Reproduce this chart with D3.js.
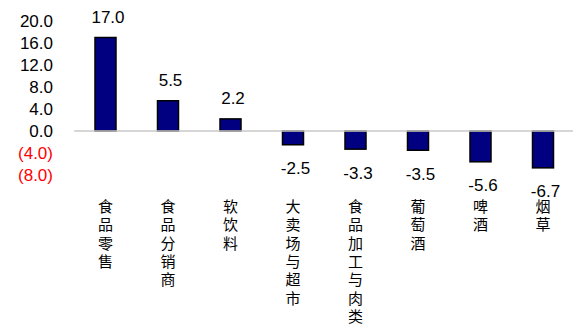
<!DOCTYPE html>
<html><head><meta charset="utf-8">
<script src="https://cdn.jsdelivr.net/npm/d3@7"></script>
<style>html,body{margin:0;padding:0;background:#fff;}</style>
</head><body>
<svg id="chart" width="573" height="329"></svg>
<script>
const categories = ["食品零售","食品分销商","软饮料","大卖场与超市","食品加工与肉类","葡萄酒","啤酒","烟草"];
const values = [17.0, 5.5, 2.2, -2.5, -3.3, -3.5, -5.6, -6.7];
const yTicks = [20, 16, 12, 8, 4, 0, -4, -8];

const svg = d3.select("#chart");
const x = d3.scaleBand().domain(categories).range([74.25, 574.25]).paddingInner(0.664).paddingOuter(0.332);
const y = d3.scaleLinear().domain([-8, 20]).range([175, 21]);

// y axis labels
const yAxis = d3.axisLeft(y).tickValues(yTicks).tickSize(0).tickPadding(0)
  .tickFormat(d => d >= 0 ? d.toFixed(1) : "(" + (-d).toFixed(1) + ")");
const gy = svg.append("g").attr("transform", "translate(53,0)").call(yAxis);
gy.select(".domain").remove();
gy.selectAll("text")
  .attr("font-family", "Liberation Sans, Arial, sans-serif")
  .attr("font-size", 17)
  .attr("fill", d => d < 0 ? "#ff0000" : "#000");

// bars
svg.selectAll("rect.bar").data(values).enter().append("rect")
  .attr("class", "bar")
  .attr("x", (d, i) => x(categories[i]))
  .attr("width", x.bandwidth())
  .attr("y", d => y(Math.max(0, d)))
  .attr("height", d => Math.abs(y(d) - y(0)))
  .attr("fill", "#000080")
  .attr("stroke", "#000")
  .attr("stroke-width", 1.5);

// baseline
svg.append("line")
  .attr("x1", x.range()[0]).attr("x2", 573)
  .attr("y1", y(0)).attr("y2", y(0))
  .attr("stroke", "#c8c8c8").attr("stroke-width", 1.5);

// value labels
svg.selectAll("text.val").data(values).enter().append("text")
  .attr("class", "val")
  .attr("x", (d, i) => x(categories[i]) + x.bandwidth() / 2 + 2.5)
  .attr("y", d => d >= 0 ? y(d) - 14.5 : y(d) + 29.5)
  .attr("text-anchor", "middle")
  .attr("font-family", "Liberation Sans, Arial, sans-serif")
  .attr("font-size", 17)
  .attr("fill", "#000")
  .text(d => d.toFixed(1));

// category labels (vertical, one char per line)
svg.selectAll("text.cat").data(categories).enter().append("text")
  .attr("class", "cat")
  .attr("x", d => x(d) + x.bandwidth() / 2)
  .attr("y", 199)
  .style("writing-mode", "vertical-rl")
  .style("text-orientation", "upright")
  .style("letter-spacing", "3.3px")
  .attr("font-family", "Noto Sans CJK SC, sans-serif")
  .attr("font-size", 15)
  .attr("fill", "#000")
  .text(d => d);
</script>
</body></html>
